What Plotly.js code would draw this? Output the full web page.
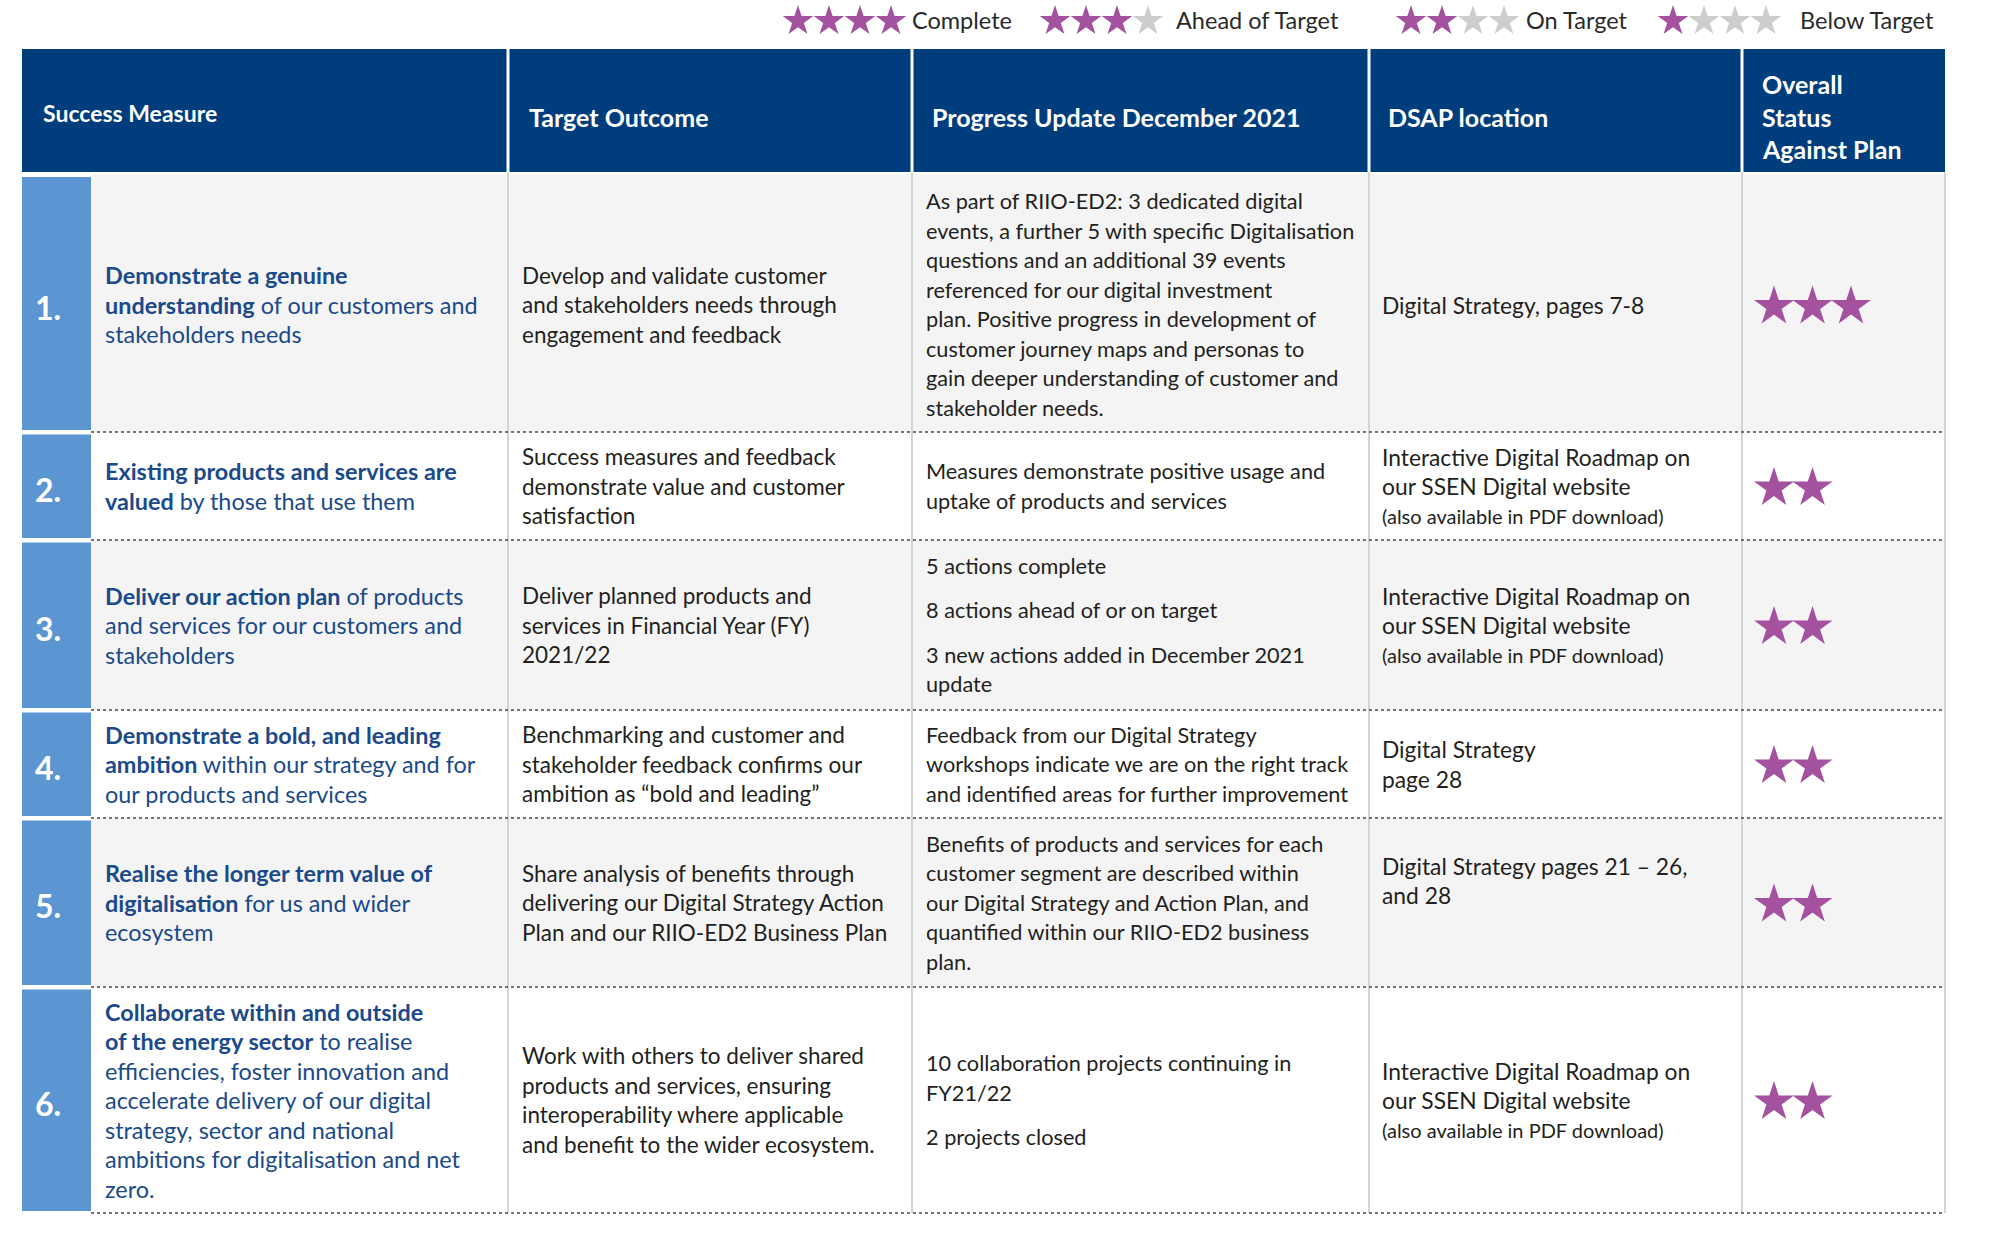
<!DOCTYPE html>
<html><head><meta charset="utf-8">
<script src="https://cdn.plot.ly/plotly-3.0.1.min.js"></script>
<style>html,body{margin:0;padding:0;background:#fff}</style>
</head><body><div id="chart" style="width:1996px;height:1249px"></div>
<script>
// ---------------- DATA ----------------
const headers = ["Success Measure", "Target Outcome", "Progress Update December 2021", "DSAP location", "Overall<br>Status<br>Against Plan"];
const rowNumbers = ["1.", "2.", "3.", "4.", "5.", "6."];
const measures = [
  "<b>Demonstrate a genuine</b><br><b>understanding</b> of our customers and<br>stakeholders needs",
  "<b>Existing products and services are</b><br><b>valued</b> by those that use them",
  "<b>Deliver our action plan</b> of products<br>and services for our customers and<br>stakeholders",
  "<b>Demonstrate a bold, and leading</b><br><b>ambition</b> within our strategy and for<br>our products and services",
  "<b>Realise the longer term value of</b><br><b>digitalisation</b> for us and wider<br>ecosystem",
  "<b>Collaborate within and outside</b><br><b>of the energy sector</b> to realise<br>efficiencies, foster innovation and<br>accelerate delivery of our digital<br>strategy, sector and national<br>ambitions for digitalisation and net<br>zero."
];
const targets = [
  "Develop and validate customer<br>and stakeholders needs through<br>engagement and feedback",
  "Success measures and feedback<br>demonstrate value and customer<br>satisfaction",
  "Deliver planned products and<br>services in Financial Year (FY)<br>2021/22",
  "Benchmarking and customer and<br>stakeholder feedback confirms our<br>ambition as “bold and leading”",
  "Share analysis of benefits through<br>delivering our Digital Strategy Action<br>Plan and our RIIO-ED2 Business Plan",
  "Work with others to deliver shared<br>products and services, ensuring<br>interoperability where applicable<br>and benefit to the wider ecosystem."
];
const progress = [
  ["As part of RIIO-ED2: 3 dedicated digital<br>events, a further 5 with specific Digitalisation<br>questions and an additional 39 events<br>referenced for our digital investment<br>plan. Positive progress in development of<br>customer journey maps and personas to<br>gain deeper understanding of customer and<br>stakeholder needs."],
  ["Measures demonstrate positive usage and<br>uptake of products and services"],
  ["5 actions complete", "8 actions ahead of or on target", "3 new actions added in December 2021<br>update"],
  ["Feedback from our Digital Strategy<br>workshops indicate we are on the right track<br>and identified areas for further improvement"],
  ["Benefits of products and services for each<br>customer segment are described within<br>our Digital Strategy and Action Plan, and<br>quantified within our RIIO-ED2 business<br>plan."],
  ["10 collaboration projects continuing in<br>FY21/22", "2 projects closed"]
];
const roadmapText = "Interactive Digital Roadmap on<br>our SSEN Digital website<br><span style='font-size:20px'>(also available in PDF download)</span>";
const locations = [
  ["Digital Strategy, pages 7-8"],
  [roadmapText],
  [roadmapText],
  ["Digital Strategy<br>page 28"],
  ["Digital Strategy pages 21 – 26,<br>and 28", ""],
  [roadmapText]
];
const statusStars = [3, 2, 2, 2, 2, 2];
const legendLabels = ["Complete", "Ahead of Target", "On Target", "Below Target"];
const legendStars = [4, 3, 2, 1];
const maxStars = 4;

// ---------------- LAYOUT / STYLE ----------------
const W = 1996, H = 1249;
const colEdges = [22, 91, 508, 912, 1369, 1742, 1945];
const headerTop = 49, headerBottom = 172;
const rowEdges = [177, 432, 540, 710, 818, 987, 1213];
const legendStarStart = [798, 1055, 1411, 1673];
const legendTextX = [911, 1175, 1525, 1799];
const legendY = 20, legendStarStep = 31;
const statusStarStep = 38.5;
const FONT = "Lato, 'Open Sans', sans-serif";
const LH = 29.5, PGAP = 15;
const C = {
  header: "#003d7c", numBlue: "#5b95d2", rowAlt: "#f4f4f4",
  measure: "#1a4a8a", text: "#231f20", star: "#a4519f", starOff: "#cdcdcd",
  vline: "#d4d4d4", dots: "#4a4a4a"
};
const fMeasure = {family: FONT, size: 23.4, color: C.measure};
const fTarget = {family: FONT, size: 22.5, color: C.text};
const fProgress = {family: FONT, size: 21.7, color: C.text};
const fLocation = {family: FONT, size: 22.8, color: C.text};
const fHeader = {family: FONT, size: 25, color: "#ffffff"};

const shapes = [];
const annotations = [];

function rect(x0, y0, x1, y1, color) {
  shapes.push({type: "rect", xref: "x", yref: "y", x0, y0, x1, y1, fillcolor: color, line: {width: 0}, layer: "below"});
}
function line(x0, y0, x1, y1, color, width, dash) {
  shapes.push({type: "line", xref: "x", yref: "y", x0, y0, x1, y1, line: {color, width, dash: dash || "solid"}});
}
function text(x, y, t, font) {
  annotations.push({
    xref: "x", yref: "y", x, y, text: t, showarrow: false,
    xanchor: "left", yanchor: "middle", align: "left", borderpad: 0,
    font: font || fTarget
  });
}
// one annotation per text line, so line spacing is fixed independent of font size
function cell(x, yc, paras, font, lh) {
  lh = lh || LH;
  const lines = paras.map(p => p.split("<br>"));
  const total = lines.reduce((a, l) => a + l.length * lh, 0) + (lines.length - 1) * PGAP;
  let y = yc - total / 2;
  lines.forEach(l => {
    l.forEach(s => {
      if (s !== "") text(x, y + lh / 2, s, font);
      y += lh;
    });
    y += PGAP;
  });
}

// header
rect(colEdges[0], headerTop, colEdges[6], headerBottom, C.header);
for (let i = 2; i <= 5; i++) line(colEdges[i], headerTop, colEdges[i], headerBottom, "#ffffff", 3);
const hy = (headerTop + headerBottom) / 2 + 6;
text(42, hy - 4, "<b>" + headers[0] + "</b>", Object.assign({}, fHeader, {size: 23}));
text(colEdges[2] + 20, hy, "<b>" + headers[1] + "</b>", fHeader);
text(colEdges[3] + 19, hy, "<b>" + headers[2] + "</b>", fHeader);
text(colEdges[4] + 18, hy, "<b>" + headers[3] + "</b>", fHeader);
cell(colEdges[5] + 19, hy, ["<b>" + headers[4].split("<br>").join("</b><br><b>") + "</b>"], fHeader, 32.5);

// rows
const starX = [], starY = [];
rowNumbers.forEach((num, r) => {
  const y0 = rowEdges[r], y1 = rowEdges[r + 1];
  const yc = (y0 + y1) / 2;
  if (r % 2 === 0) rect(colEdges[1], r === 0 ? 174 : y0, colEdges[6], y1, C.rowAlt);
  rect(colEdges[0], r === 0 ? y0 : y0 + 2.5, colEdges[1], y1 - 2, C.numBlue);
  text(34, yc + 3, "<b>" + num + "</b>", {family: FONT, size: 32, color: "#ffffff"});
  cell(colEdges[1] + 13, yc, [measures[r]], fMeasure);
  cell(colEdges[2] + 13, yc, [targets[r]], fTarget);
  cell(colEdges[3] + 13, yc, progress[r], fProgress);
  cell(colEdges[4] + 12, yc, locations[r], fLocation);
  for (let s = 0; s < statusStars[r]; s++) {
    starX.push(colEdges[5] + 32 + s * statusStarStep);
    starY.push(yc + 2);
  }
});
// vertical separators in body
for (let i = 2; i <= 6; i++) line(colEdges[i], headerBottom, colEdges[i], rowEdges[6], C.vline, 2);
// dotted row separators
for (let r = 1; r < rowEdges.length; r++) line(colEdges[1], rowEdges[r], colEdges[6], rowEdges[r], C.dots, 1.6, "dot");

// legend
const lgX = [], lgY = [], lgC = [];
legendLabels.forEach((lab, i) => {
  for (let s = 0; s < maxStars; s++) {
    lgX.push(legendStarStart[i] + s * legendStarStep);
    lgY.push(legendY + 1);
    lgC.push(s < legendStars[i] ? C.star : C.starOff);
  }
  text(legendTextX[i], legendY, lab, {family: FONT, size: 23.5, color: "#2a2a2a"});
});

const traces = [
  {type: "scatter", mode: "markers", x: starX, y: starY, hoverinfo: "skip",
   marker: {symbol: "star", size: 30, color: C.star, line: {width: 0}}},
  {type: "scatter", mode: "markers", x: lgX, y: lgY, hoverinfo: "skip",
   marker: {symbol: "star", size: 23, color: lgC, line: {width: 0}}}
];

const layout = {
  width: W, height: H, margin: {l: 0, r: 0, t: 0, b: 0},
  paper_bgcolor: "#ffffff", plot_bgcolor: "#ffffff", showlegend: false,
  xaxis: {range: [0, W], visible: false, fixedrange: true},
  yaxis: {range: [H, 0], visible: false, fixedrange: true},
  shapes, annotations
};
Plotly.newPlot("chart", traces, layout, {displayModeBar: false, staticPlot: true});
</script>
</body></html>
